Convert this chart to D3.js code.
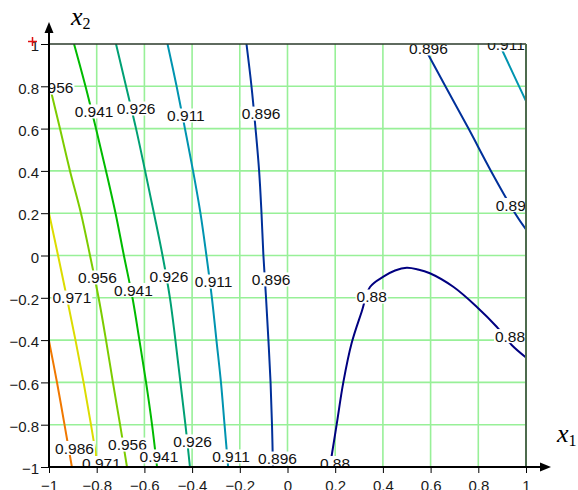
<!DOCTYPE html>
<html><head><meta charset="utf-8">
<script src="https://cdn.jsdelivr.net/npm/d3@7"></script>
<style>body{margin:0;background:#fff}</style>
</head><body>
<svg id="c" width="578" height="490"></svg>
<script>
const x1Ticks = [-1,-0.8,-0.6,-0.4,-0.2,0,0.2,0.4,0.6,0.8,1];
const x2Ticks = [-1,-0.8,-0.6,-0.4,-0.2,0,0.2,0.4,0.6,0.8,1];
const levels = ["0.88","0.896","0.911","0.926","0.941","0.956","0.971","0.986"];
const levelColors = ["#000080","#00309a","#0094b0","#00a074","#00bb00","#7ccc00","#dcdc00","#f07800"];

// contour polylines, [x1, x2]
const c0986 = [[-1,-0.404],[-0.966,-0.603],[-0.935,-0.8],[-0.904,-1]];
const c0971 = [[-1,0.2],[-0.962,0],[-0.925,-0.2],[-0.889,-0.4],[-0.855,-0.6],[-0.824,-0.8],[-0.795,-1]];
const c0956 = [[-1,0.816],[-0.954,0.6],[-0.912,0.4],[-0.866,0.2],[-0.828,0],[-0.792,-0.2],[-0.761,-0.4],[-0.732,-0.6],[-0.702,-0.8],[-0.673,-1]];
const c0941 = [[-0.895,1],[-0.847,0.8],[-0.803,0.6],[-0.761,0.4],[-0.721,0.2],[-0.686,0],[-0.650,-0.2],[-0.621,-0.4],[-0.593,-0.6],[-0.568,-0.8],[-0.547,-1]];
const c0926 = [[-0.719,1],[-0.677,0.8],[-0.635,0.6],[-0.597,0.4],[-0.560,0.2],[-0.524,0],[-0.493,-0.2],[-0.470,-0.4],[-0.449,-0.6],[-0.428,-0.8],[-0.409,-1]];
const c0911 = [[-0.503,1],[-0.465,0.8],[-0.430,0.6],[-0.396,0.4],[-0.365,0.2],[-0.340,0],[-0.317,-0.2],[-0.298,-0.4],[-0.279,-0.6],[-0.264,-0.8],[-0.249,-1]];
const c0896 = [[-0.172,1],[-0.151,0.8],[-0.134,0.6],[-0.119,0.4],[-0.109,0.2],[-0.101,0],[-0.090,-0.2],[-0.080,-0.4],[-0.071,-0.6],[-0.065,-0.8],[-0.061,-1]];
const c0896b = [[0.566,1],[0.662,0.8],[0.759,0.6],[0.853,0.4],[0.954,0.2],[1,0.123]];
const c0911b = [[0.888,1],[0.971,0.8],[1,0.73]];
const c0880 = [[0.178,-1],[0.185,-0.948],[0.206,-0.8],[0.234,-0.6],[0.269,-0.414],[0.311,-0.266],[0.346,-0.149],[0.402,-0.1],[0.451,-0.071],[0.5,-0.058],[0.547,-0.066],[0.597,-0.084],[0.695,-0.148],[0.793,-0.242],[0.877,-0.337],[0.94,-0.423],[1,-0.482]];

// label positions [text, x1, x2]
const labelPos = [
  ["0.986",-0.893,-0.910],
  ["0.971",-0.904,-0.199],["0.971",-0.780,-0.981],
  ["0.956",-0.979,0.794],["0.956",-0.797,-0.104],["0.956",-0.671,-0.894],
  ["0.941",-0.811,0.681],["0.941",-0.646,-0.163],["0.941",-0.539,-0.950],
  ["0.926",-0.635,0.695],["0.926",-0.497,-0.099],["0.926",-0.398,-0.879],
  ["0.911",-0.426,0.662],["0.911",-0.310,-0.123],["0.911",-0.237,-0.950],
  ["0.896",-0.111,0.671],["0.896",-0.069,-0.113],["0.896",-0.042,-0.960],
  ["0.896",0.591,0.979],["0.896",0.954,0.239],["0.911",0.916,0.998],
  ["0.88",0.353,-0.194],["0.88",0.933,-0.381],["0.88",0.199,-0.981]
];

const contours = [
  ["0.986",c0986],["0.971",c0971],["0.956",c0956],["0.941",c0941],["0.926",c0926],
  ["0.911",c0911],["0.896",c0896],["0.896",c0896b],["0.911",c0911b],["0.88",c0880]
];

const L = 49, R = 526, T = 44, B = 467;
const x = d3.scaleLinear().domain([-1,1]).range([L,R]);
const y = d3.scaleLinear().domain([-1,1]).range([B,T]);
const color = d3.scaleOrdinal().domain(levels).range(levelColors);

const svg = d3.select("#c");
const defs = svg.append("defs");
defs.append("clipPath").attr("id","plot").append("rect").attr("x",L).attr("y",T).attr("width",R-L).attr("height",B-T);
defs.append("clipPath").attr("id","lab").append("rect").attr("x",L).attr("y",T-1).attr("width",R-L).attr("height",B-T+1);

// grid
const g = svg.append("g").attr("stroke","#98f098").attr("stroke-width",1.6);
g.selectAll("line.v").data(x1Ticks.filter(d=>d>-1 && d<1)).join("line")
  .attr("x1",d=>x(d)).attr("x2",d=>x(d)).attr("y1",T).attr("y2",B);
g.selectAll("line.h").data(x2Ticks.filter(d=>d>-1 && d<1)).join("line").attr("class","h")
  .attr("y1",d=>y(d)).attr("y2",d=>y(d)).attr("x1",L).attr("x2",R);

// contours
const line = d3.line().x(d=>x(d[0])).y(d=>y(d[1])).curve(d3.curveCatmullRom.alpha(0.5));
svg.append("g").attr("clip-path","url(#plot)").selectAll("path").data(contours).join("path")
  .attr("d",d=>line(d[1])).attr("fill","none").attr("stroke",d=>color(d[0])).attr("stroke-width",2);

// labels
const lg = svg.append("g").attr("clip-path","url(#lab)");
labelPos.forEach(([t,a,b])=>{
  const gg = lg.append("g");
  const tx = gg.append("text").attr("x",x(a)).attr("y",y(b)+5.6).attr("text-anchor","middle")
    .attr("font-family","Liberation Sans, Arial, sans-serif").attr("font-size",15.5).attr("fill","#111").text(t);
  const bb = tx.node().getBBox();
  gg.insert("rect","text").attr("x",bb.x-1).attr("y",y(b)-7).attr("width",bb.width+2).attr("height",14).attr("fill","#fff");
});

// borders
svg.append("line").attr("x1",L).attr("x2",R).attr("y1",T).attr("y2",T).attr("stroke","#2a3a2a").attr("stroke-width",1.5);
svg.append("line").attr("x1",R).attr("x2",R).attr("y1",T).attr("y2",B).attr("stroke","#4d6b4d").attr("stroke-width",2);

// axes ticks + labels
const fmt = d => (d<0?"\u2212":"") + String(Math.abs(+d.toFixed(1)));
const ya = svg.append("g").attr("transform",`translate(${L},0)`)
  .call(d3.axisLeft(y).tickValues(x2Ticks).tickSize(8).tickPadding(2).tickFormat(fmt));
const xa = svg.append("g").attr("transform",`translate(0,${B})`)
  .call(d3.axisBottom(x).tickValues(x1Ticks).tickSize(6).tickPadding(7).tickFormat(fmt));
[ya,xa].forEach(a=>{
  a.select(".domain").remove();
  a.selectAll("text").attr("font-family","Liberation Sans, Arial, sans-serif").attr("font-size",15).attr("fill","#1a1a1a");
  a.selectAll("line").attr("stroke","#000");
});
ya.selectAll("text").attr("dy","0.45em");

// main axis lines with arrows
svg.append("line").attr("x1",L).attr("x2",L).attr("y1",B+1).attr("y2",30).attr("stroke","#000").attr("stroke-width",2);
svg.append("line").attr("x1",L-1).attr("x2",543).attr("y1",B).attr("y2",B).attr("stroke","#000").attr("stroke-width",2);
svg.append("path").attr("d",`M${L},22 L${L-4.5},33 L${L+4.5},33 Z`).attr("fill","#000");
svg.append("path").attr("d",`M551,${B} L540,${B-4.5} L540,${B+4.5} Z`).attr("fill","#000");

// axis titles
const t2 = svg.append("text").attr("x",71).attr("y",25).attr("font-family","Liberation Serif, serif").attr("fill","#000");
t2.append("tspan").attr("font-style","italic").attr("font-size",26).text("x");
t2.append("tspan").attr("font-size",16).attr("dy",4).text("2");
const t1 = svg.append("text").attr("x",557).attr("y",442).attr("font-family","Liberation Serif, serif").attr("fill","#000");
t1.append("tspan").attr("font-style","italic").attr("font-size",26).text("x");
t1.append("tspan").attr("font-size",16).attr("dy",4).text("1");

// red marker
svg.append("path").attr("d","M28,41.5 H37 M32.5,37 V46").attr("stroke","#e01010").attr("stroke-width",1.5);
</script>
</body></html>
